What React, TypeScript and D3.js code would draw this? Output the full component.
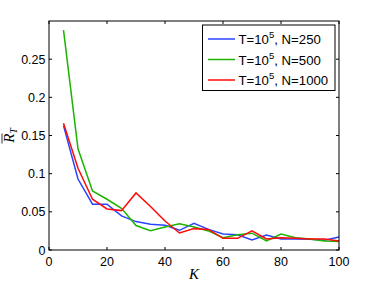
import React from "react";
import * as d3 from "d3";

const K = [5, 10, 15, 20, 25, 30, 35, 40, 45, 50, 55, 60, 65, 70, 75, 80, 85, 90, 95, 100];
const blueN250 = [0.163, 0.093, 0.060, 0.060, 0.0446, 0.0372, 0.0337, 0.0325, 0.0258, 0.035, 0.027, 0.021, 0.020, 0.013, 0.0197, 0.0144, 0.0144, 0.014, 0.0127, 0.017];
const greenN500 = [0.288, 0.1325, 0.0774, 0.0665, 0.0547, 0.032, 0.0254, 0.030, 0.0345, 0.030, 0.025, 0.016, 0.020, 0.022, 0.0118, 0.021, 0.016, 0.0144, 0.0118, 0.011];
const redN1000 = [0.166, 0.107, 0.0665, 0.0538, 0.0516, 0.0748, 0.057, 0.038, 0.0223, 0.028, 0.027, 0.0153, 0.0153, 0.025, 0.0144, 0.016, 0.0153, 0.0144, 0.0144, 0.0118];
const seriesNames = ["250", "500", "1000"];
const colors = ["#2a45ff", "#1cb400", "#ff0a0a"];
const xTicks = [0, 20, 40, 60, 80, 100];
const yTicks = [0, 0.05, 0.1, 0.15, 0.2, 0.25];
const yTickLabels = ["0", "0.05", "0.1", "0.15", "0.2", "0.25"];

export default function App() {
  const W = 374, H = 282;
  const L = 49, R = 339, T = 21, B = 250;
  const x = d3.scaleLinear().domain([0, 100]).range([L, R]);
  const y = d3.scaleLinear().domain([0, 0.3]).range([B, T]);
  const series = [blueN250, greenN500, redN1000];
  const line = d3.line<number>().x((_, i) => x(K[i])).y((d) => y(d));
  const font = "'Liberation Sans', Arial, sans-serif";
  const tl = 3;
  return (
    <svg width={W} height={H} style={{ position: "absolute", left: 0, top: 0 }}>
      <rect width={W} height={H} fill="#fff" />
      {series.map((s, i) => (
        <path key={i} d={line(s) || ""} fill="none" stroke={colors[i]} strokeWidth={1.5} />
      ))}
      <rect x={L} y={T} width={R - L} height={B - T} fill="none" stroke="#000" strokeWidth={1} />
      {xTicks.map((t) => (
        <g key={"x" + t}>
          <line x1={x(t)} x2={x(t)} y1={B} y2={B - tl} stroke="#000" />
          <line x1={x(t)} x2={x(t)} y1={T} y2={T + tl} stroke="#000" />
          <text x={x(t)} y={265.5} textAnchor="middle" fontFamily={font} fontSize={12.5} fill="#000">{t}</text>
        </g>
      ))}
      {yTicks.map((t, i) => (
        <g key={"y" + t}>
          <line x1={L} x2={L + tl} y1={y(t)} y2={y(t)} stroke="#000" />
          <line x1={R} x2={R - tl} y1={y(t)} y2={y(t)} stroke="#000" />
          <text x={45.5} y={y(t) + 4.5} textAnchor="end" fontFamily={font} fontSize={12.5} fill="#000">{yTickLabels[i]}</text>
        </g>
      ))}
      <text x={194} y={279} textAnchor="middle" fontFamily="'Liberation Serif', serif" fontStyle="italic" fontSize={15} fill="#000">K</text>
      <g transform={`translate(14, ${(T + B) / 2}) rotate(-90)`}>
        <text x={0} y={0} textAnchor="middle" fontFamily="'Liberation Serif', serif" fontStyle="italic" fontSize={15} fill="#000">
          R<tspan fontSize={10} dy={3}>T</tspan>
        </text>
        <line x1={-8} x2={2} y1={-12} y2={-12} stroke="#000" strokeWidth={0.8} />
      </g>
      <rect x={202.5} y={25} width={132.5} height={65.5} fill="#fff" stroke="#000" strokeWidth={1} />
      {seriesNames.map((n, i) => {
        const cy = 39 + i * 20.5;
        return (
          <g key={n}>
            <line x1={208} x2={235} y1={cy} y2={cy} stroke={colors[i]} strokeWidth={1.5} />
            <text x={238.5} y={cy + 5} fontFamily={font} fontSize={13.2} fill="#000">
              T=10<tspan fontSize={9.5} dy={-6}>5</tspan><tspan dy={6}>, N={n}</tspan>
            </text>
          </g>
        );
      })}
    </svg>
  );
}
